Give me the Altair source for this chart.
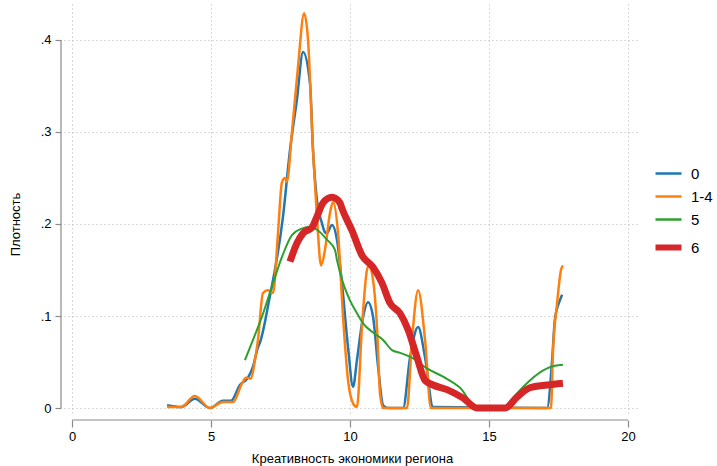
import altair as alt
import pandas as pd

series = ["0", "1-4", "5", "6"]
colors = ["#1f77b4", "#ff7f0e", "#2ca02c", "#d62728"]
widths = [2.5, 2.5, 2.0, 7.0]

x_s0 = [3.42, 3.92, 4.42, 4.96, 5.43, 5.72, 6.04, 6.33, 6.51, 6.69, 6.76, 7.09, 7.59, 7.84, 8.09, 8.31,
        8.56, 8.67, 8.81, 8.99, 9.10, 9.17, 9.35, 9.53, 9.71, 9.93, 10.11, 10.25, 10.47, 10.65, 10.83,
        11.01, 11.19, 11.37, 11.91, 12.16, 12.45, 12.70, 12.99, 17.09, 17.27, 17.37, 17.55, 17.63]
y_s0 = [0.003, 0.001, 0.010, 0.000, 0.008, 0.008, 0.025, 0.033, 0.045, 0.066, 0.071, 0.117, 0.208, 0.280, 0.335, 0.387,
        0.353, 0.280, 0.226, 0.201, 0.191, 0.190, 0.199, 0.183, 0.136, 0.066, 0.023, 0.052, 0.099, 0.115, 0.099,
        0.045, 0.003, 0.000, 0.000, 0.055, 0.088, 0.055, 0.001, 0.000, 0.052, 0.096, 0.117, 0.123]

x_s1 = [3.42, 3.92, 4.42, 4.96, 5.43, 5.79, 6.12, 6.26, 6.44, 6.58, 6.69, 6.87, 7.05, 7.23, 7.41, 7.55, 7.66,
        7.73, 7.91, 8.13, 8.35, 8.49, 8.67, 8.81, 8.96, 9.10, 9.28, 9.39, 9.57, 9.75, 9.93, 10.11, 10.25,
        10.43, 10.61, 10.68, 10.83, 10.97, 11.08, 11.19, 12.05, 12.23, 12.45, 12.70, 12.91, 17.23, 17.30,
        17.45, 17.59, 17.66]
y_s1 = [0.001, 0.001, 0.013, 0.000, 0.0065, 0.0065, 0.027, 0.033, 0.032, 0.052, 0.074, 0.125, 0.128, 0.125, 0.190, 0.245, 0.250,
        0.246, 0.299, 0.371, 0.429, 0.400, 0.280, 0.208, 0.155, 0.172, 0.212, 0.224, 0.190, 0.099, 0.030, 0.005, 0.001,
        0.088, 0.150, 0.155, 0.139, 0.088, 0.016, 0.000, 0.000, 0.074, 0.128, 0.074, 0.000, 0.000, 0.060,
        0.114, 0.150, 0.155]

x_s5 = [6.22, 6.51, 6.83, 7.19, 7.55, 7.91, 8.27, 8.56, 8.85, 9.17, 9.46, 9.53, 9.75, 10.00, 10.25, 10.47,
        10.83, 11.19, 11.51, 11.80, 12.27, 12.77, 13.35, 13.96, 14.57, 15.58, 16.01, 16.47, 17.09, 17.37, 17.66]
y_s5 = [0.052, 0.074, 0.099, 0.132, 0.164, 0.188, 0.195, 0.197, 0.193, 0.183, 0.172, 0.161, 0.136, 0.117, 0.103, 0.092,
        0.082, 0.074, 0.063, 0.060, 0.054, 0.043, 0.034, 0.022, 0.000, 0.000, 0.016, 0.030, 0.043, 0.046, 0.047]

x_s6 = [7.84, 8.09, 8.31, 8.63, 8.81, 9.03, 9.35, 9.64, 9.71, 10.07, 10.43, 10.83, 11.15, 11.44, 11.80, 12.09,
        12.41, 12.70, 12.99, 13.49, 14.06, 14.57, 15.58, 16.01, 16.47, 17.09, 17.66]
y_s6 = [0.159, 0.179, 0.190, 0.196, 0.208, 0.223, 0.229, 0.223, 0.217, 0.193, 0.166, 0.153, 0.136, 0.114, 0.103, 0.085,
        0.055, 0.030, 0.025, 0.020, 0.011, 0.000, 0.000, 0.012, 0.022, 0.025, 0.027]

x_ticks = [0, 5, 10, 15, 20]
y_ticks = [0, 0.1, 0.2, 0.3, 0.4]

FONT = "Liberation Sans"
AXIS_GRAY = "#8a8a8a"
XTITLE = "Креативность экономики региона"
YTITLE = "Плотность"

xscale = alt.Scale(domain=[-0.288, 20.432], nice=False, zero=False)
yscale = alt.Scale(domain=[-0.0065, 0.4391], nice=False, zero=False)
cscale = alt.Scale(domain=series, range=colors)

leg = alt.Legend(title=None, orient="none", legendX=597, legendY=162, symbolType="stroke",
                 symbolSize=676, labelFontSize=15, labelFont=FONT, labelColor="#000",
                 labelOffset=15, rowPadding=7,
                 symbolStrokeWidth={"expr": "datum.value == '6' ? 6 : 2.5"})

xaxis = alt.Axis(values=x_ticks, title=XTITLE, domain=False, offset=6, tickSize=7,
                 labelPadding=3, titlePadding=9, grid=True)
yaxis = alt.Axis(values=y_ticks, title=YTITLE, domain=False, offset=3, tickSize=6,
                 labelPadding=4, grid=True, titleX=-46, titleY=220, titleBaseline="middle",
                 labelExpr="datum.value == 0 ? '0' : replace(format(datum.value, '.1f'), '0.', '.')")

layers = []
for name, xs_, ys_, w in zip(series, [x_s0, x_s1, x_s5, x_s6], [y_s0, y_s1, y_s5, y_s6], widths):
    d = pd.DataFrame({"series": name, "x": xs_, "y": ys_, "order": list(range(len(xs_)))})
    layers.append(
        alt.Chart(d).mark_line(interpolate="monotone", strokeJoin="round", strokeWidth=w).encode(
            x=alt.X("x:Q", scale=xscale, axis=xaxis),
            y=alt.Y("y:Q", scale=yscale, axis=yaxis),
            color=alt.Color("series:N", scale=cscale, legend=leg),
            order="order:Q",
        )
    )

xline = alt.Chart(pd.DataFrame({"a": [x_ticks[0]], "b": [x_ticks[-1]]})).mark_rule(
    color=AXIS_GRAY, strokeWidth=1.2).encode(
    x=alt.X("a:Q", scale=xscale, title=XTITLE), x2="b:Q", y=alt.value(416))
yline = alt.Chart(pd.DataFrame({"a": [y_ticks[0]], "b": [y_ticks[-1]]})).mark_rule(
    color=AXIS_GRAY, strokeWidth=1.2).encode(
    y=alt.Y("a:Q", scale=yscale, title=YTITLE), y2="b:Q", x=alt.value(-3))

chart = alt.layer(*layers, xline, yline).properties(
    width=576, height=410,
    padding={"left": 64, "top": 4, "right": 77, "bottom": 52},
    autosize="none",
).configure_view(stroke=None).configure_axis(
    labelFont=FONT, titleFont=FONT, labelFontSize=13, titleFontSize=13,
    labelColor="#000", titleColor="#000", titleFontWeight="normal",
    tickColor=AXIS_GRAY, tickWidth=1.2,
    gridColor="#b4b4b4", gridDash=[1, 3], gridWidth=1,
)

chart.save("out.html", embed_options={"renderer": "svg", "actions": False})
